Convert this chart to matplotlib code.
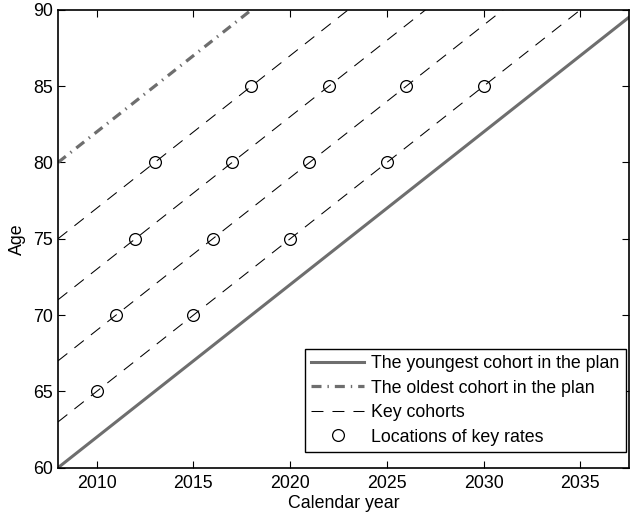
import matplotlib
matplotlib.use('Agg')
import matplotlib.pyplot as plt
import numpy as np

plt.rcParams['font.family'] = ['Liberation Sans', 'DejaVu Sans']
plt.rcParams['lines.scale_dashes'] = False

# cohorts given by birth year (age = year - birth year)
youngest_birth = 1948
oldest_birth = 1928
key_births = [1933, 1937, 1941, 1945]

# key rates
key_years = [2010, 2015, 2020, 2025, 2030,
             2011, 2016, 2021, 2026,
             2012, 2017, 2022,
             2013, 2018]
key_ages = [65, 70, 75, 80, 85,
            70, 75, 80, 85,
            75, 80, 85,
            80, 85]

x_min, x_max = 2008, 2037.5
years = np.array([x_min, x_max])

fig = plt.figure(figsize=(6.3, 5.18), dpi=100)
ax = fig.add_axes([0.092, 0.097, 0.906, 0.884])

gray = '#6e6e6e'
ax.plot(years, years - youngest_birth, '-', color=gray, lw=2.2,
        label='The youngest cohort in the plan')
ax.plot(years, years - oldest_birth, color=gray, lw=2.3,
        label='The oldest cohort in the plan', dashes=[7.2, 4.3, 1.0, 4.3])
for i, b in enumerate(key_births):
    ax.plot(years, years - b, color='k', lw=0.75, dashes=[8.6, 6.5],
            label='Key cohorts' if i == 0 else None)
ax.plot(key_years, key_ages, 'o', mfc='none', mec='k', ms=8.5, mew=0.9,
        label='Locations of key rates')

ax.set_xlim(x_min, x_max)
ax.set_ylim(60, 90)
ax.set_xticks([2010, 2015, 2020, 2025, 2030, 2035])
ax.set_yticks([60, 65, 70, 75, 80, 85, 90])
ax.tick_params(direction='in', top=True, right=True, labelsize=12.8, length=5)
ax.tick_params(axis='x', pad=5.5)
for s in ax.spines.values():
    s.set_linewidth(1.2)
ax.set_xlabel('Calendar year', fontsize=12.8, labelpad=2)
ax.set_ylabel('Age', fontsize=12.8, labelpad=5)

leg = ax.legend(loc='lower right', bbox_to_anchor=(0.995, 0.035), fontsize=12.8,
                fancybox=False, framealpha=1, edgecolor='k', borderaxespad=0,
                labelspacing=0.42, handlelength=3.0, borderpad=0.35,
                handletextpad=0.4)
leg.get_frame().set_linewidth(1.0)

fig.savefig('out.png', dpi=100)
